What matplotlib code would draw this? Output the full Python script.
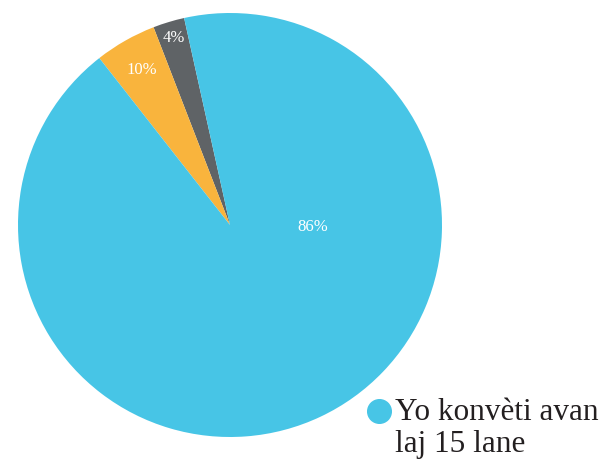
import matplotlib
matplotlib.use("Agg")
import matplotlib.pyplot as plt
import numpy as np
from matplotlib.lines import Line2D

# slice sizes as drawn (degrees share), with printed labels
categories = ["Lòt", "Ant 15 ak 18 lane", "Yo konvèti avan laj 15 lane"]
values = [2.4, 4.7, 92.9]
labels = ["4%", "10%", "86%"]
colors = ["#5f6366", "#f9b43d", "#47c5e6"]
legend_lines = ["Yo konvèti avan", "laj 15 lane"]

fig = plt.figure(figsize=(6.0, 4.65), dpi=100)
ax = fig.add_axes([18/600, 28/465, 424/600, 424/465])
wedges, _ = ax.pie(values, colors=colors, startangle=102.5, counterclock=True,
                   wedgeprops=dict(linewidth=0))
ax.set_xlim(-1, 1)
ax.set_ylim(-1, 1)
ax.set_aspect("equal")
ax.axis("off")

serif = ["Liberation Serif", "DejaVu Serif"]
# label radii (fraction of radius) and angles
label_r = [0.92, 0.84, 0.39]
for w, lab, r in zip(wedges, labels, label_r):
    mid = np.deg2rad((w.theta1 + w.theta2) / 2)
    if lab == "86%":
        mid = np.deg2rad(-1.5)
    ax.text(r*np.cos(mid), r*np.sin(mid), lab, ha="center", va="center",
            color="white", fontsize=12, family=serif)

# legend: marker + two-line label
marker = Line2D([379.5/600], [1 - 411/465], marker="o", linestyle="none",
                color=colors[2], markersize=17, transform=fig.transFigure)
fig.add_artist(marker)
for i, line in enumerate(legend_lines):
    fig.text(395/600, 1 - (420 + 32*i)/465, line, ha="left", va="baseline",
             family=serif, fontsize=22.5, color="#231f20")
fig.savefig("out.png", dpi=100)
